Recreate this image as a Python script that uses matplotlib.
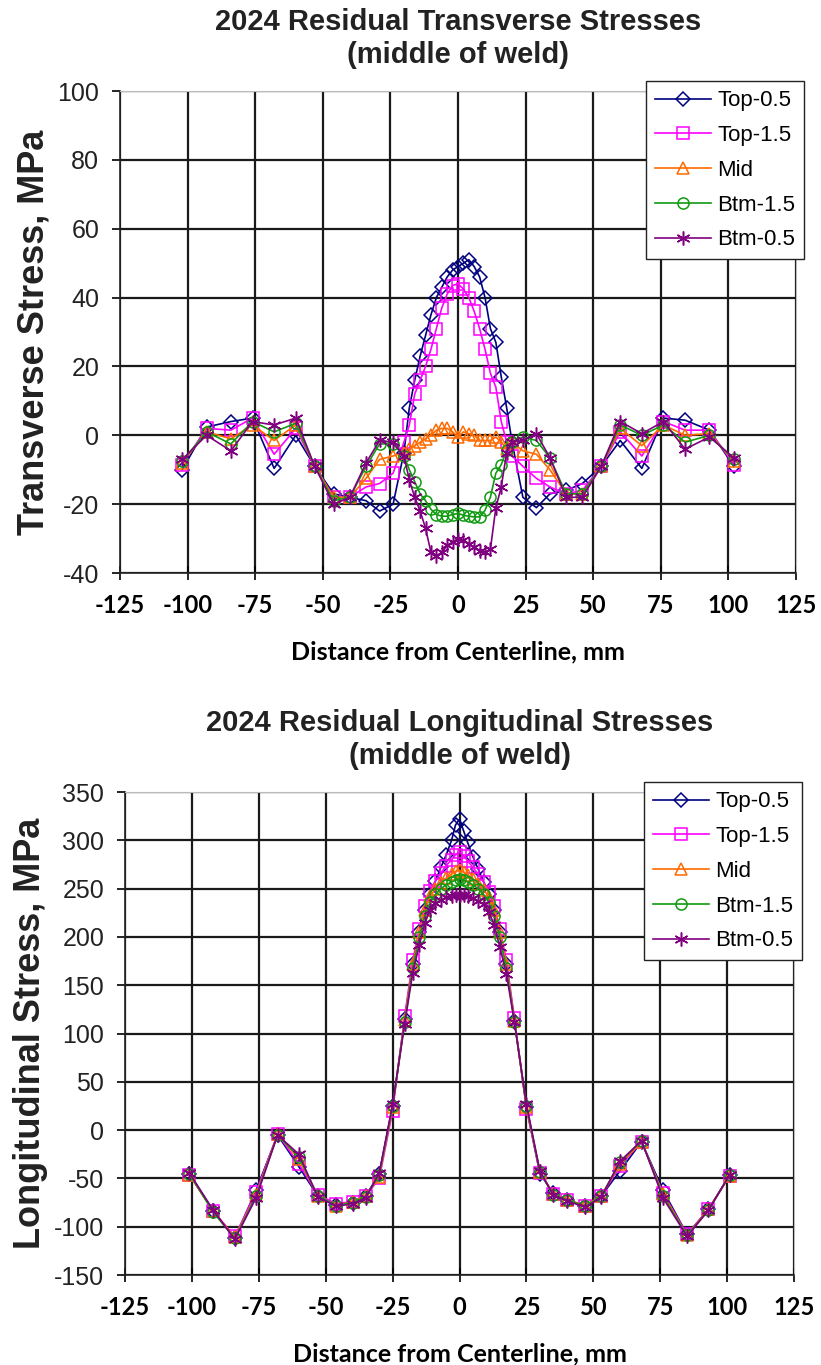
import numpy as np
import matplotlib
matplotlib.use('Agg')
import matplotlib.pyplot as plt

plt.rcParams['axes.unicode_minus'] = False

# ---- transverse stresses (top chart) ----
xt = [-102, -93, -84, -76, -68, -60, -53, -46, -40, -34, -29, -24,
      -20, -18, -16, -14, -12, -10, -8, -6, -4, -2, 0, 2, 4, 6, 8, 10, 12, 14, 16, 18, 20,
      24, 29, 34, 40, 46, 53, 60, 68, 76, 84, 93, 102]

t_top05 = [-10, 2.4, 4, 5, -9.6, 0, -9, -17, -18, -19, -22, -20,
           -5, 8, 16, 23, 29, 35, 40, 43, 46, 48, 49, 50, 51, 49, 46, 40, 31, 27, 17, 8, -2,
           -18, -21, -17, -16, -14, -9, -1.5, -9.6, 5, 4.4, 1.5, -9]
t_top15 = [-8.5, 2, 1.5, 5, -5.5, 2, -9, -18, -18, -15, -14, -11,
           -2, 3, 12, 16, 20, 25, 31, 37, 41, 43.5, 44, 42.5, 40, 36, 31, 25, 18, 14, 4, -2, -6,
           -9, -12.5, -15, -17, -16, -9, 1, -6, 4, 1.5, 1.5, -8.5]
t_mid = [-8, 1, -1, 3, -1.5, 3, -9, -18, -18, -12.5, -7, -6,
         -5, -4, -3, -2, -1, 0, 1.5, 2, 2, 1, -0.5, 1, 0.5, 0, -1.5, -1.5, -1.5, -0.5, -2, -4, -2,
         -4.5, -5.5, -10, -17, -17, -9, 2, -3, 3, 0, 0.5, -7.5]
t_btm15 = [-7.5, 1, -2.5, 4, 1, 3.5, -9, -19, -18, -9, -2.5, -2.5,
           -6, -10, -13.5, -17, -19, -21.5, -23, -23.5, -23.5, -23, -22.7, -23.2, -23.5, -23.7, -23.7, -21.8, -17.9, -11, -8.5, -4.4, -2,
           -0.5, -1.5, -6.5, -17, -17, -9, 3, 0, 3, -2, 0, -7]
t_btm05 = [-7, 0, -4.5, 4, 3, 5, -9, -20, -18, -8, -1.5, -2,
           -6, -13, -18, -22, -27, -34, -35, -34, -32, -31, -30, -30.5, -31.5, -32.5, -33.5, -34, -33, -21, -15, -5, -2,
           -1.5, 0.5, -6.5, -18, -18, -9, 4, 0.5, 4, -4, -0.5, -6.5]

# ---- longitudinal stresses (bottom chart) ----
xl = [-101, -92, -84, -76, -68, -60, -53, -46, -40, -35, -30, -25,
      -20.5, -17.5, -15, -13, -11, -9, -7, -5, -3, -1.5, 0, 1.5, 3, 5, 7, 9, 11, 13, 15, 17.5, 20.5,
      25, 30, 35, 40, 47, 53, 60, 68, 76, 85, 93, 101]

l_top05 = [-45, -84, -112, -62, -5, -38, -68, -77, -75, -68, -45, 25,
           115, 172, 205, 228, 245, 258, 272, 285, 300, 316, 322, 310, 298, 283, 270, 257, 245, 228, 205, 172, 113,
           24, -45, -65, -72, -78, -68, -42, -12, -62, -108, -82, -46]
l_top15 = [-46, -84, -110, -64, -4, -35, -67, -76, -74, -68, -50, 20,
           118, 176, 208, 232, 248, 258, 266, 274, 280, 285, 288, 284, 279, 272, 265, 257, 247, 232, 208, 176, 116,
           22, -44, -66, -72, -79, -68, -37, -12, -65, -108, -82, -47]
l_mid = [-46, -84, -111, -67, -4, -30, -68, -78, -74, -68, -48, 24,
         114, 172, 205, 228, 242, 250, 256, 261, 265, 268, 269, 267, 264, 260, 255, 249, 241, 228, 205, 172, 113,
         24, -43, -66, -72, -78, -68, -35, -12, -66, -109, -82, -47]
l_btm15 = [-45, -85, -112, -68, -5, -28, -68, -78, -75, -69, -46, 25,
           112, 168, 200, 222, 236, 244, 250, 254, 257, 259, 260, 259, 257, 254, 250, 244, 236, 222, 200, 168, 112,
           25, -43, -67, -72, -79, -68, -33, -11, -68, -109, -83, -46]
l_btm05 = [-44, -83, -113, -70, -5, -25, -69, -79, -76, -70, -44, 27,
           110, 163, 192, 214, 228, 235, 238, 241, 242, 243, 243, 243, 242, 240, 237, 234, 226, 212, 190, 162, 112,
           27, -42, -67, -73, -80, -69, -32, -11, -70, -110, -83, -46]

labels = ['Top-0.5', 'Top-1.5', 'Mid', 'Btm-1.5', 'Btm-0.5']
colors = ['#000080', '#FF00FF', '#FF6A00', '#109A10', '#800080']
markers = ['D', 's', '^', 'o', (6, 2, 0)]
msizes = [7.5, 8, 8, 8, 10]

xticks = [-125, -100, -75, -50, -25, 0, 25, 50, 75, 100, 125]

arial = 'Liberation Sans'
calibri = 'Lato'


def draw(ax, x, series, title, ylabel, ylim, ystep):
    for y, lab, c, m, ms in zip(series, labels, colors, markers, msizes):
        ax.plot(x, y, color=c, marker=m, markersize=ms, markerfacecolor='none',
                markeredgecolor=c, markeredgewidth=1.1, linewidth=1.2, label=lab)
    ax.set_xlim(-125, 125)
    ax.set_ylim(*ylim)
    ax.set_xticks(xticks)
    ax.set_yticks(np.arange(ylim[0], ylim[1] + 1, ystep))
    ax.grid(True, color='#1a1a1a', linewidth=1.6)
    ax.set_axisbelow(True)
    for s in ['top', 'right']:
        ax.spines[s].set_color('#bbbbbb')
    for s in ['left', 'bottom']:
        ax.spines[s].set_color('#222222')
        ax.spines[s].set_linewidth(1.2)
    ax.tick_params(axis='y', direction='out', length=6, width=1.2, labelsize=18, pad=9)
    ax.tick_params(axis='x', direction='inout', length=10, width=1.2, pad=10)
    for t in ax.get_yticklabels():
        t.set_fontfamily(arial)
        t.set_color('#222222')
    for t in ax.get_xticklabels():
        t.set_fontfamily(calibri)
        t.set_fontweight('bold')
        t.set_fontsize(17)
    ax.set_title(title, fontsize=21, fontweight='bold', family=arial, pad=20, color='#222222',
                 linespacing=1.25)
    ax.set_ylabel(ylabel, fontsize=26, fontweight='bold', family=arial, labelpad=4, color='#222222')
    ax.set_xlabel('Distance from Centerline, mm', fontsize=18, fontweight='bold',
                  family=calibri, labelpad=17)
    leg = ax.legend(loc='upper right', bbox_to_anchor=(1.012, 1.02),
                    prop={'family': arial, 'size': 16}, frameon=True, fancybox=False,
                    edgecolor='#222222', framealpha=1, borderpad=0.4, labelspacing=0.62,
                    handlelength=2.5, handletextpad=0.3, borderaxespad=0)
    leg.get_frame().set_linewidth(1.0)


fig = plt.figure(figsize=(8.21, 13.65), dpi=100)
ax1 = fig.add_axes([0.1462, 0.5802, 0.8233, 0.3531])
ax2 = fig.add_axes([0.1523, 0.0659, 0.8149, 0.3538])

draw(ax1, xt, [t_top05, t_top15, t_mid, t_btm15, t_btm05],
     '2024 Residual Transverse Stresses\n(middle of weld)', 'Transverse Stress, MPa', (-40, 100), 20)
draw(ax2, xl, [l_top05, l_top15, l_mid, l_btm15, l_btm05],
     '2024 Residual Longitudinal Stresses\n(middle of weld)', 'Longitudinal Stress, MPa', (-150, 350), 50)

fig.savefig('out.png', dpi=100)
